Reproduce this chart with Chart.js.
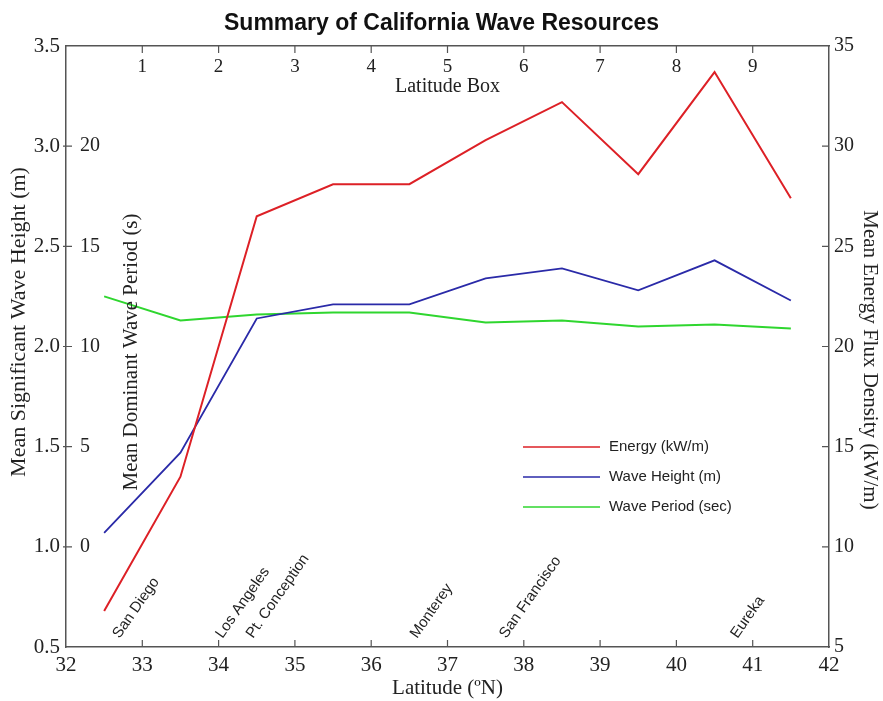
<!DOCTYPE html>
<html>
<head>
<meta charset="utf-8">
<title>Summary of California Wave Resources</title>
<script src="https://cdn.jsdelivr.net/npm/chart.js@4.4.1/dist/chart.umd.min.js"></script>
<style>
  html, body { margin: 0; padding: 0; background: #fff; }
  #wrap { width: 883px; height: 701px; }
</style>
</head>
<body>
<div id="wrap"><canvas id="waves" width="883" height="701"></canvas></div>
<script>
// latitude box centres (deg N)
const latitudes = [32.5, 33.5, 34.5, 35.5, 36.5, 37.5, 38.5, 39.5, 40.5, 41.5];
// values
const energy = [6.8, 13.5, 26.5, 28.1, 28.1, 30.3, 32.2, 28.6, 33.7, 27.4];       // kW/m
const waveHeight = [1.07, 1.47, 2.14, 2.21, 2.21, 2.34, 2.39, 2.28, 2.43, 2.23];  // m
const wavePeriod = [12.5, 11.3, 11.6, 11.7, 11.7, 11.2, 11.3, 11.0, 11.1, 10.9];  // s

const boxLats = [33, 34, 35, 36, 37, 38, 39, 40, 41];
const boxLabels = ['1', '2', '3', '4', '5', '6', '7', '8', '9'];
const periodTicks = [0, 5, 10, 15, 20];

const cityNames = ['San Diego', 'Los Angeles', 'Pt. Conception', 'Monterey', 'San Francisco', 'Eureka'];
const cityLats = [32.7, 34.05, 34.45, 36.6, 37.77, 40.8];

const SERIF = "'Liberation Serif', 'Times New Roman', serif";
const SANS = "'Liberation Sans', Arial, sans-serif";
const AXIS = '#555';
const TEXT = '#222';

function pts(vals) {
  return vals.map((v, i) => ({ x: latitudes[i], y: v }));
}

function text(ctx, str, x, y, font, align, rot) {
  ctx.save();
  ctx.translate(x, y);
  if (rot) ctx.rotate(rot);
  ctx.font = font;
  ctx.fillStyle = TEXT;
  ctx.textAlign = align || 'center';
  ctx.textBaseline = 'middle';
  ctx.fillText(str, 0, 0);
  ctx.restore();
}

// inward tick marks, inner period axis, titles, city names, legend
const decorations = {
  id: 'decorations',
  afterDraw(chart) {
    const { ctx, chartArea: a, scales } = chart;
    const x = scales.x, yH = scales.yH, yP = scales.yP, yE = scales.yE;

    ctx.save();
    ctx.strokeStyle = AXIS;
    ctx.lineWidth = 1.2;
    ctx.beginPath();
    boxLats.forEach(v => {
      const px = x.getPixelForValue(v);
      ctx.moveTo(px, a.bottom); ctx.lineTo(px, a.bottom - 7);
      ctx.moveTo(px, a.top); ctx.lineTo(px, a.top + 7);
    });
    yH.ticks.forEach(t => {
      if (t.value <= yH.min || t.value >= yH.max) return;
      const py = yH.getPixelForValue(t.value);
      ctx.moveTo(a.left - 3, py); ctx.lineTo(a.left + 6, py);
    });
    yE.ticks.forEach(t => {
      if (t.value <= yE.min || t.value >= yE.max) return;
      const py = yE.getPixelForValue(t.value);
      ctx.moveTo(a.right - 7, py); ctx.lineTo(a.right, py);
    });
    ctx.stroke();
    ctx.restore();

    // latitude box axis along the top, inside the frame
    boxLats.forEach((v, i) => {
      text(ctx, boxLabels[i], x.getPixelForValue(v), a.top + 21, `19px ${SERIF}`);
    });
    text(ctx, 'Latitude Box', (a.left + a.right) / 2, a.top + 41, `20px ${SERIF}`);

    // wave period axis labels inside the frame
    periodTicks.forEach(v => {
      text(ctx, String(v), a.left + 14, yP.getPixelForValue(v), `20px ${SERIF}`, 'left');
    });

    text(ctx, 'Mean Significant Wave Height (m)', 19, 322, `22px ${SERIF}`, 'center', -Math.PI / 2);
    text(ctx, 'Mean Dominant Wave Period (s)', a.left + 65, 352, `21px ${SERIF}`, 'center', -Math.PI / 2);
    text(ctx, 'Mean Energy Flux Density (kW/m)', 870, 360, `21px ${SERIF}`, 'center', Math.PI / 2);

    // place names
    cityNames.forEach((name, i) => {
      ctx.save();
      ctx.translate(x.getPixelForValue(cityLats[i]), a.bottom - 8);
      ctx.rotate(-55 * Math.PI / 180);
      ctx.font = `15px ${SANS}`;
      ctx.fillStyle = TEXT;
      ctx.textAlign = 'left';
      ctx.textBaseline = 'alphabetic';
      ctx.fillText(name, 0, 0);
      ctx.restore();
    });

    // legend
    chart.data.datasets.forEach((ds, i) => {
      const ly = 447 + i * 30;
      ctx.save();
      ctx.strokeStyle = ds.borderColor;
      ctx.lineWidth = 1.5;
      ctx.beginPath();
      ctx.moveTo(523, ly); ctx.lineTo(600, ly);
      ctx.stroke();
      ctx.restore();
      text(ctx, ds.label, 609, ly, `15px ${SANS}`, 'left');
    });
  }
};

new Chart(document.getElementById('waves'), {
  type: 'line',
  data: {
    datasets: [
      { label: 'Energy (kW/m)', data: pts(energy), yAxisID: 'yE', borderColor: '#dd2026', borderWidth: 2 },
      { label: 'Wave Height (m)', data: pts(waveHeight), yAxisID: 'yH', borderColor: '#2a2aa8', borderWidth: 1.8 },
      { label: 'Wave Period (sec)', data: pts(wavePeriod), yAxisID: 'yP', borderColor: '#2fd62f', borderWidth: 2 }
    ]
  },
  options: {
    responsive: false,
    devicePixelRatio: 1,
    animation: false,
    layout: { padding: 0 },
    elements: { point: { radius: 0 }, line: { tension: 0, fill: false } },
    plugins: {
      legend: { display: false },
      tooltip: { enabled: false },
      title: {
        display: true,
        text: 'Summary of California Wave Resources',
        color: '#111',
        font: { family: SANS, size: 23, weight: 'bold', lineHeight: 1.2 },
        padding: { top: 10, bottom: 0 }
      }
    },
    scales: {
      x: {
        type: 'linear', position: 'bottom', min: 32, max: 42,
        ticks: { stepSize: 1, padding: 6, color: TEXT, font: { family: SERIF, size: 21 } },
        grid: { display: false, drawTicks: false },
        border: { color: AXIS, width: 1.5 },
        title: { display: true, text: 'Latitude (ºN)', color: TEXT, font: { family: SERIF, size: 21 }, padding: { top: 0, bottom: 0 } },
        afterFit: s => { s.height = 54; }
      },
      x2: {
        type: 'linear', position: 'top', min: 32, max: 42,
        ticks: { display: false },
        grid: { display: false, drawTicks: false },
        border: { color: AXIS, width: 1.5 },
        afterFit: s => { s.height = 8.4; }
      },
      yH: {
        type: 'linear', position: 'left', min: 0.5, max: 3.5,
        ticks: { stepSize: 0.5, padding: 6, color: TEXT, font: { family: SERIF, size: 21 }, callback: v => v.toFixed(1) },
        grid: { display: false, drawTicks: false },
        border: { color: AXIS, width: 1.5 },
        afterFit: s => { s.width = 66; }
      },
      yP: {
        type: 'linear', display: false, min: -5, max: 25
      },
      yE: {
        type: 'linear', position: 'right', min: 5, max: 35,
        ticks: { stepSize: 5, padding: 5, color: TEXT, font: { family: SERIF, size: 20 } },
        grid: { display: false, drawTicks: false },
        border: { color: AXIS, width: 1.5 },
        afterFit: s => { s.width = 54; }
      }
    }
  },
  plugins: [decorations]
});
</script>
</body>
</html>
